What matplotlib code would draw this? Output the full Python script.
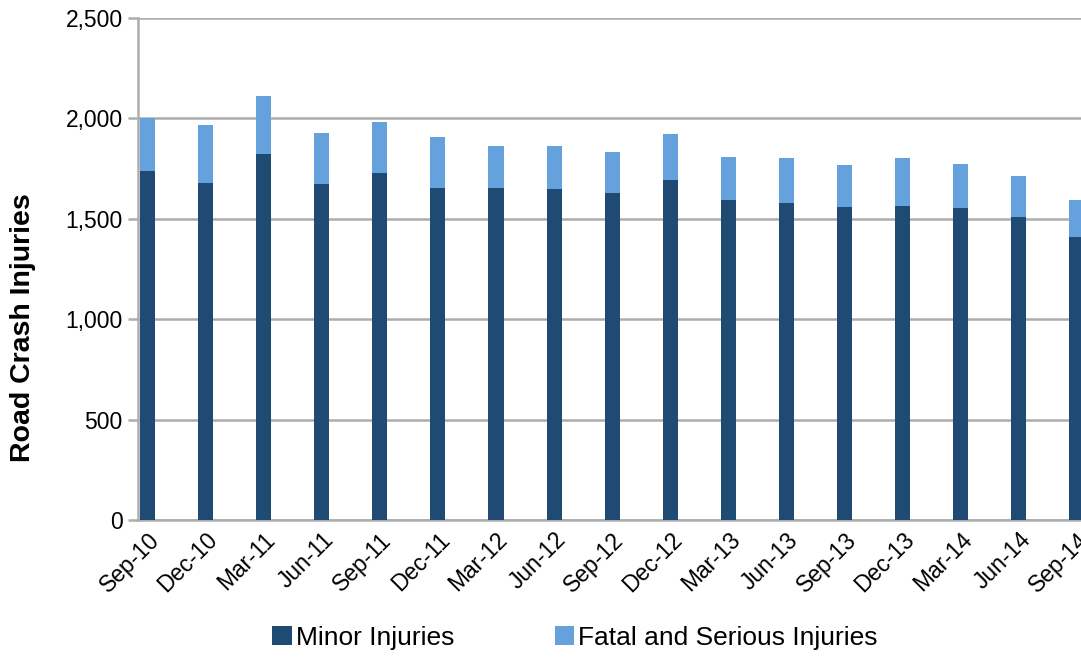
import numpy as np
import matplotlib.pyplot as plt
from matplotlib.ticker import FuncFormatter

quarters = ['Sep-10', 'Dec-10', 'Mar-11', 'Jun-11', 'Sep-11', 'Dec-11', 'Mar-12', 'Jun-12',
            'Sep-12', 'Dec-12', 'Mar-13', 'Jun-13', 'Sep-13', 'Dec-13', 'Mar-14', 'Jun-14', 'Sep-14']
minor = [1740, 1680, 1824, 1675, 1730, 1655, 1655, 1648, 1630, 1693, 1595, 1579,
         1559, 1562, 1554, 1509, 1411]
total = [2000, 1967, 2110, 1927, 1980, 1907, 1863, 1863, 1831, 1922, 1808, 1801,
         1766, 1804, 1771, 1711, 1592]
fatal_serious = [t - m for t, m in zip(total, minor)]

plt.rcParams['font.family'] = ['Liberation Sans', 'DejaVu Sans']

fig = plt.figure(figsize=(10.81, 6.59), dpi=100)
ax = fig.add_axes([138 / 1081, 1 - 520 / 659, 1 - 138 / 1081, (520 - 18) / 659])

x = np.arange(len(quarters))
w = 0.26
ax.bar(x, minor, width=w, color='#1f4a73', zorder=3, label='Minor Injuries')
ax.bar(x, fatal_serious, width=w, bottom=minor, color='#65a2dd', zorder=3,
       label='Fatal and Serious Injuries')

ax.set_xlim(-0.163, 16.07)
ax.set_ylim(0, 2500)
ax.set_yticks(range(0, 2501, 500))
ax.yaxis.set_major_formatter(FuncFormatter(lambda v, p: f'{int(v):,}'))
ax.grid(axis='y', color='#adadad', linewidth=1.8, zorder=0)

ax.set_xticks(x)
ax.set_xticklabels(quarters, rotation=45, ha='right', rotation_mode='anchor')
ax.tick_params(axis='x', length=0, labelsize=16.5, pad=6)
ax.tick_params(axis='y', length=7, width=1.8, color='#adadad', labelsize=16.5, pad=4)

for s in ['top', 'right']:
    ax.spines[s].set_visible(False)
for s in ['left', 'bottom']:
    ax.spines[s].set_color('#adadad')
    ax.spines[s].set_linewidth(1.8)

ax.set_ylabel('Road Crash Injuries', fontsize=20.5, fontweight='bold')
ax.yaxis.set_label_coords(-0.108, 0.384)

fig.legend(loc='center', bbox_to_anchor=(575 / 1081, 1 - 638 / 659), ncol=2,
           frameon=False, fontsize=19, handlelength=0.75, handleheight=0.75,
           handletextpad=0.15, columnspacing=3.8)

fig.savefig('out.png', dpi=100)
